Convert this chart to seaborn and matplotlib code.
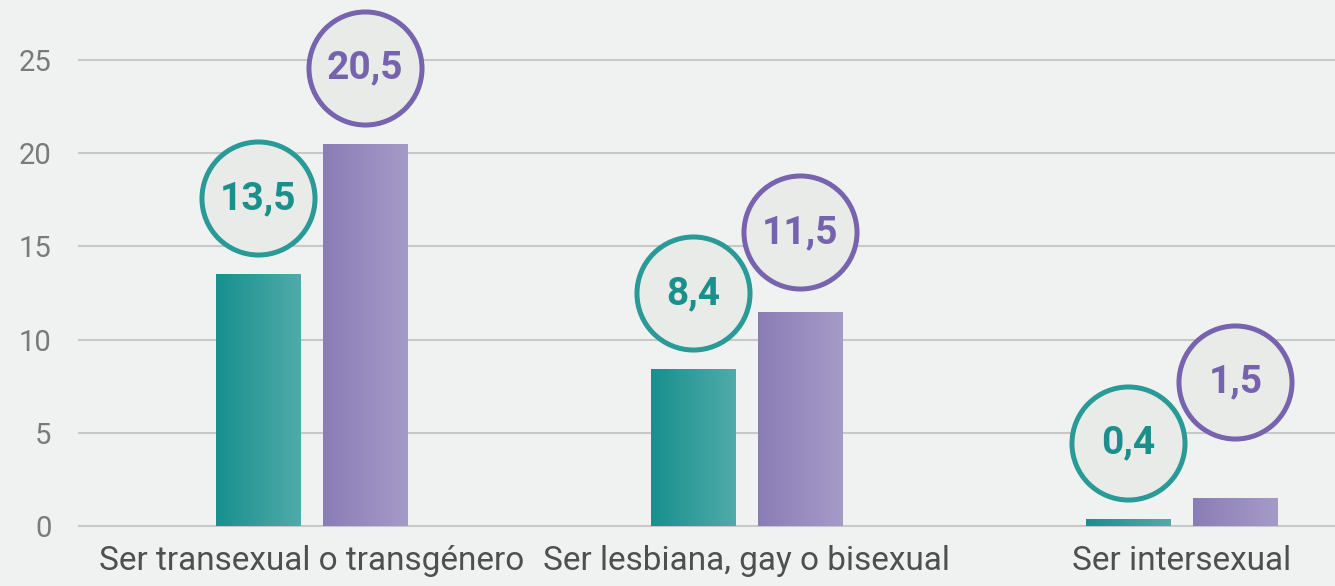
import matplotlib
matplotlib.use('Agg')
import matplotlib.pyplot as plt
from matplotlib.colors import LinearSegmentedColormap
import numpy as np
import pandas as pd
import seaborn as sns

# data
categories = ['Ser transexual o transgénero', 'Ser lesbiana, gay o bisexual', 'Ser intersexual']
series_names = ['Grupo A', 'Grupo B']
values_a = [13.5, 8.4, 0.4]
values_b = [20.5, 11.5, 1.5]
y_ticks = [0, 5, 10, 15, 20, 25]

df = pd.DataFrame({
    'categoria': categories * 2,
    'grupo': [series_names[0]] * len(categories) + [series_names[1]] * len(categories),
    'valor': values_a + values_b,
})

bg = '#f0f2f1'
teal_cmap = LinearSegmentedColormap.from_list('teal', ['#17908e', '#50aba9'])
purple_cmap = LinearSegmentedColormap.from_list('purple', ['#8a7db6', '#a59bc7'])
ring_colors = ['#2a9a97', '#7864ae']
text_colors = ['#1a8f8c', '#7663ad']

sns.set_style('white')
plt.rcParams['font.family'] = ['Roboto', 'DejaVu Sans']

fig = plt.figure(figsize=(13.35, 5.86), dpi=100, facecolor=bg)
ax = fig.add_axes([78 / 1335, 56 / 586, 1 - 78 / 1335, 1 - 56 / 586])
ax.set_facecolor(bg)

sns.barplot(data=df, x='categoria', y='valor', hue='grupo', order=categories,
            hue_order=series_names, palette=['#35a09e', '#988dc0'],
            width=0.492, gap=0.206, linewidth=0, legend=False, ax=ax, zorder=2)

# gradient fill for each bar, clipped to the bar rectangle
grad = np.linspace(0, 1, 256).reshape(1, -1)
for container, cmap in zip(ax.containers, [teal_cmap, purple_cmap]):
    for bar in container:
        x0, y0 = bar.get_x(), bar.get_y()
        x1, y1 = x0 + bar.get_width(), y0 + bar.get_height()
        im = ax.imshow(grad, extent=[x0, x1, y0, y1], aspect='auto', cmap=cmap,
                       interpolation='bicubic', zorder=3)
        im.set_clip_path(bar)

ax.set_xlim(-0.5375, 2.352)
ax.set_ylim(-4 / 18.64, 25 + 60 / 18.64)
ax.set_yticks(y_ticks)
ax.yaxis.grid(True, color='#c8c8c8', linewidth=1.5, zorder=0)
ax.set_axisbelow(True)
for s in ax.spines.values():
    s.set_visible(False)
ax.set_xlabel('')
ax.set_ylabel('')
ax.tick_params(axis='y', length=0, pad=19, labelsize=21, labelcolor='#7a7a7a')
ax.tick_params(axis='x', length=0, pad=11, labelsize=24, labelcolor='#4f4f4f')

# value circles above bars (pixel offsets converted to data units)
ppu = ax.transData.transform((0, 1))[1] - ax.transData.transform((0, 0))[1]
prev_y = None
label_y = []
for i, container in enumerate(ax.containers):
    ys = []
    for j, bar in enumerate(container):
        y = bar.get_height() + 76 / ppu
        if prev_y is not None:
            y = max(y, prev_y[j] + 61 / ppu)
        ys.append(y)
    label_y.append(ys)
    prev_y = ys

for i, (container, vals) in enumerate(zip(ax.containers, [values_a, values_b])):
    xs = [bar.get_x() + bar.get_width() / 2 for bar in container]
    ax.scatter(xs, label_y[i], s=81.4 ** 2, facecolor='#e9ebe9', edgecolor=ring_colors[i],
               linewidths=3.6, zorder=5, clip_on=False)
    for x, y, v in zip(xs, label_y[i], vals):
        ax.text(x, y, f'{v:.1f}'.replace('.', ','), ha='center', va='center',
                fontsize=28, fontweight='bold', color=text_colors[i], zorder=6)

fig.savefig('out.png', dpi=100, facecolor=bg)
